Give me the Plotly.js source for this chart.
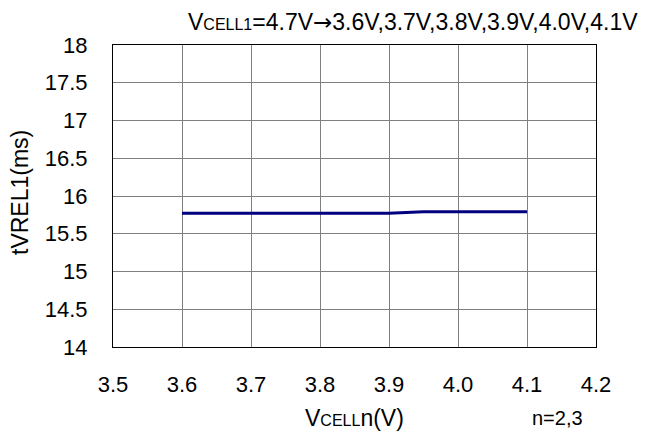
<!DOCTYPE html>
<html><head><meta charset="utf-8">
<script src="https://cdn.plot.ly/plotly-3.0.1.min.js"></script>
<style>body{margin:0;background:#fff}#c{width:647px;height:439px}</style>
</head><body><div id="c"></div>
<script>
var vcell = [3.6, 3.7, 3.8, 3.9, 3.95, 4.0, 4.1];
var tvrel1 = [15.77, 15.77, 15.77, 15.77, 15.79, 15.79, 15.79];
var xTicks = [3.5, 3.6, 3.7, 3.8, 3.9, 4.0, 4.1, 4.2];
var xTickText = ['3.5', '3.6', '3.7', '3.8', '3.9', '4.0', '4.1', '4.2'];
var yTicks = [14, 14.5, 15, 15.5, 16, 16.5, 17, 17.5, 18];
var yTickText = ['14', '14.5', '15', '15.5', '16', '16.5', '17', '17.5', '18'];

var F = '"Liberation Sans", Arial, sans-serif';
var trace = {x: vcell, y: tvrel1, mode: 'lines', line: {color: '#000080', width: 3}, hoverinfo: 'none'};
var layout = {
  width: 647, height: 439,
  margin: {l: 113, r: 51, t: 45, b: 92},
  paper_bgcolor: '#fff', plot_bgcolor: '#fff',
  showlegend: false,
  font: {family: F, size: 22, color: '#000'},
  xaxis: {range: [3.5, 4.2], tickvals: xTicks, ticktext: xTickText, showgrid: true, gridcolor: '#808080', gridwidth: 1,
    zeroline: false, showline: true, linecolor: '#000', linewidth: 1, mirror: true, ticks: 'outside', ticklen: 18, tickcolor: 'rgba(0,0,0,0)',
    tickfont: {family: F, size: 22}, fixedrange: true, automargin: false},
  yaxis: {range: [14, 18], tickvals: yTicks, ticktext: yTickText, showgrid: true, gridcolor: '#808080', gridwidth: 1,
    zeroline: false, showline: true, linecolor: '#000', linewidth: 1, mirror: true, ticks: 'outside', ticklen: 20, tickcolor: 'rgba(0,0,0,0)',
    tickfont: {family: F, size: 22}, fixedrange: true, automargin: false},
  annotations: [
    {text: 'V<span style="font-size:16px">CELL1</span>=4.7V<span style="font-family:DejaVu Sans">→</span>3.6V,3.7V,3.8V,3.9V,4.0V,4.1V', xref: 'paper', yref: 'paper',
     x: 1.092, y: 1.0, xanchor: 'right', yanchor: 'bottom', yshift: 8, showarrow: false, font: {family: F, size: 23}},
    {text: 'tVREL1(ms)', textangle: -90, xref: 'paper', yref: 'paper', x: 0, xshift: -93, y: 0.5, yshift: 3,
     xanchor: 'center', yanchor: 'middle', showarrow: false, font: {family: F, size: 23}},
    {text: 'V<span style="font-size:16px">CELL</span>n(V)', xref: 'paper', yref: 'paper', x: 0.5, y: 0, yshift: -71,
     xanchor: 'center', yanchor: 'middle', showarrow: false, font: {family: F, size: 23}},
    {text: 'n=2,3', xref: 'paper', yref: 'paper', x: 0.92, y: 0, yshift: -71,
     xanchor: 'center', yanchor: 'middle', showarrow: false, font: {family: F, size: 20}}
  ]
};
Plotly.newPlot('c', [trace], layout, {displayModeBar: false, staticPlot: true});
</script></body></html>
